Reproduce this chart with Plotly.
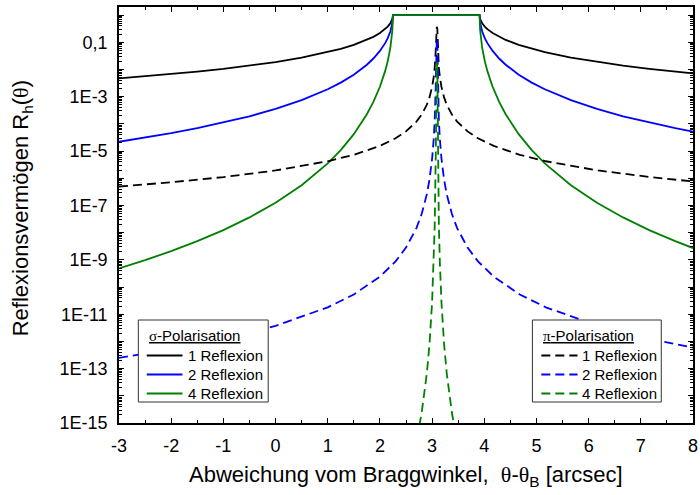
import plotly.graph_objects as go

# ---- data ----
x_sigma = [-3, -2.5, -2, -1.5, -1, -0.5, 0, 0.5, 1, 1.25, 1.5, 1.75, 1.875, 2.0, 2.1, 2.15, 2.2, 2.22, 2.24, 2.25,
           3.91, 3.92, 3.94, 3.96, 4.01, 4.06, 4.16, 4.285, 4.41, 4.66, 4.91, 5.16, 5.66, 6.16, 6.66, 7.16, 7.66, 8.0]
sigma_1 = [4.70e-3, 5.59e-3, 6.77e-3, 8.35e-3, 1.057e-2, 1.381e-2, 1.884e-2, 2.731e-2, 4.333e-2, 5.75e-2, 8.05e-2,
           0.1227, 0.1594, 0.2196, 0.3056, 0.378, 0.5015, 0.5852, 0.7334, 1.0,
           1.0, 0.7334, 0.5852, 0.5015, 0.378, 0.3056, 0.2196, 0.1594, 0.1227, 8.05e-2, 5.75e-2, 4.333e-2,
           2.731e-2, 1.884e-2, 1.381e-2, 1.057e-2, 8.35e-3, 7.22e-3]
sigma_2 = [2.21e-5, 3.12e-5, 4.58e-5, 6.97e-5, 1.117e-4, 1.907e-4, 3.55e-4, 7.46e-4, 1.877e-3, 3.306e-3, 6.48e-3,
           1.506e-2, 2.541e-2, 4.82e-2, 9.34e-2, 0.1429, 0.2515, 0.3425, 0.5379, 1.0,
           1.0, 0.5379, 0.3425, 0.2515, 0.1429, 9.34e-2, 4.82e-2, 2.541e-2, 1.506e-2, 6.48e-3, 3.306e-3, 1.877e-3,
           7.46e-4, 3.55e-4, 1.907e-4, 1.117e-4, 6.97e-5, 5.21e-5]
sigma_4 = [4.88e-10, 9.76e-10, 2.10e-9, 4.86e-9, 1.248e-8, 3.64e-8, 1.26e-7, 5.57e-7, 3.52e-6, 1.093e-5, 4.20e-5,
           2.27e-4, 6.456e-4, 2.33e-3, 8.72e-3, 2.04e-2, 6.33e-2, 0.1173, 0.2893, 1.0,
           1.0, 0.2893, 0.1173, 6.33e-2, 2.04e-2, 8.72e-3, 2.33e-3, 6.456e-4, 2.27e-4, 4.20e-5, 1.093e-5, 3.52e-6,
           5.57e-7, 1.26e-7, 3.64e-8, 1.248e-8, 4.86e-9, 2.72e-9]

x_pi = [-3, -2, -1, 0, 1, 1.5, 2, 2.3, 2.5, 2.7, 2.8, 2.9, 2.95, 3.0, 3.03, 3.05, 3.07, 3.08,
        3.09,
        3.10, 3.11, 3.13, 3.15, 3.18, 3.23, 3.28, 3.38, 3.48, 3.68, 3.88, 4.18, 4.68, 5.18, 6.18, 7.18, 8.0]
pi_1 = [4.99e-7, 7.14e-7, 1.107e-6, 1.94e-6, 4.23e-6, 7.31e-6, 1.556e-5, 2.96e-5, 5.31e-5, 1.216e-4,
        2.20e-4, 5.12e-4, 9.44e-4, 2.28e-3, 5.14e-3, 1.156e-2, 5.1e-2, 0.324,
        0.37,
        0.324, 5.1e-2, 1.156e-2, 5.14e-3, 2.28e-3, 9.44e-4, 5.12e-4, 2.20e-4, 1.216e-4, 5.31e-5,
        2.96e-5, 1.556e-5, 7.31e-6, 4.23e-6, 1.94e-6, 1.107e-6, 7.67e-7]
pi_2 = [2.49e-13, 5.10e-13, 1.225e-12, 3.75e-12, 1.795e-11, 5.35e-11, 2.42e-10, 8.79e-10, 2.82e-9, 1.479e-8,
        4.83e-8, 2.62e-7, 8.91e-7, 5.22e-6, 2.64e-5, 1.337e-4, 2.60e-3, 0.105,
        0.137,
        0.105, 2.60e-3, 1.337e-4, 2.64e-5, 5.22e-6, 8.91e-7, 2.62e-7, 4.83e-8, 1.479e-8, 2.82e-9,
        8.79e-10, 2.42e-10, 5.35e-11, 1.795e-11, 3.75e-12, 1.225e-12, 5.89e-13]
pi_4 = [6.2e-26, 2.6e-25, 1.5e-24, 1.41e-23, 3.22e-22, 2.86e-21, 5.86e-20, 7.73e-19, 7.95e-18, 2.19e-16,
        2.33e-15, 6.86e-14, 7.94e-13, 2.72e-11, 6.97e-10, 1.788e-8, 6.76e-6, 1.10e-2,
        1.88e-2,
        1.10e-2, 6.76e-6, 1.788e-8, 6.97e-10, 2.72e-11, 7.94e-13, 6.86e-14, 2.33e-15, 2.19e-16, 7.95e-18,
        7.73e-19, 5.86e-20, 2.86e-21, 3.22e-22, 1.41e-23, 1.5e-24, 3.46e-25]

series_names = ["1 Reflexion", "2 Reflexion", "4 Reflexion"]
series_colors = ["#000000", "#0000ff", "#008000"]

x_ticks = [-3, -2, -1, 0, 1, 2, 3, 4, 5, 6, 7, 8]
x_ticktext = ["-3", "-2", "-1", "0", "1", "2", "3", "4", "5", "6", "7", "8"]
y_exponents = list(range(-15, 1))
y_labels = {-15: "1E-15", -13: "1E-13", -11: "1E-11", -9: "1E-9", -7: "1E-7",
            -5: "1E-5", -3: "1E-3", -1: "0,1"}

FONT = "Liberation Sans, Arial, sans-serif"
GREEK = "<span style='font-family:Liberation Serif'>{}</span>"
DASH = "9px,5px"

# plot-area geometry in pixels (for placing the hand-built legends)
W, H = 700, 495
ML, MR, MT, MB = 119, 2, 7, 72
PW, PH = W - ML - MR, H - MT - MB


def px(xp):
    return (xp - ML) / PW


def py(yp):
    return (H - MB - yp) / PH


fig = go.Figure()
for name, col, ys in zip(series_names, series_colors, [sigma_1, sigma_2, sigma_4]):
    fig.add_trace(go.Scatter(x=x_sigma, y=ys, mode="lines", name="σ " + name,
                             line=dict(color=col, width=1.8), showlegend=False))
for name, col, ys in zip(series_names, series_colors, [pi_1, pi_2, pi_4]):
    fig.add_trace(go.Scatter(x=x_pi, y=ys, mode="lines", name="π " + name,
                             line=dict(color=col, width=1.8, dash=DASH), showlegend=False))

y_tickvals = [10.0 ** e for e in y_exponents]
y_ticktext = [y_labels.get(e, "") for e in y_exponents]
y_minor = [k * 10.0 ** e for e in range(-15, 1) for k in range(2, 10)]

axis_common = dict(showline=True, linecolor="black", linewidth=1.5, mirror="ticks",
                   ticks="inside", ticklen=5, tickwidth=1.2, tickcolor="black",
                   showgrid=False, zeroline=False, ticklabeloverflow="allow",
                   tickfont=dict(family=FONT, size=18, color="black"))

# ---- hand-built legends (boxes, titles, line samples, labels) ----
shapes = []
annotations = []
legend_specs = [
    # box left, box right, line x0, line x1, text x, greek letter, dash
    (138.5, 269.5, 147, 183, 186.5, "σ", None),
    (536, 666, 545, 581.5, 584.5, "π", DASH),
]
box_top, box_bot = 320, 402
title_y = 335.5
item_ys = [355.5, 374.5, 393.5]
for bx0, bx1, lx0, lx1, tx, greek, dash in legend_specs:
    shapes.append(dict(type="rect", xref="paper", yref="paper",
                       x0=px(bx0), x1=px(bx1), y0=py(box_bot), y1=py(box_top),
                       line=dict(color="#333333", width=1), fillcolor="white", layer="above"))
    annotations.append(dict(text="<u>" + GREEK.format(greek) + "-Polarisation</u>",
                            xref="paper", yref="paper", x=px(lx0), y=py(title_y),
                            xanchor="left", yanchor="middle", showarrow=False,
                            font=dict(family=FONT, size=15, color="black")))
    for name, col, iy in zip(series_names, series_colors, item_ys):
        ln = dict(color=col, width=1.8)
        if dash:
            ln["dash"] = dash
        shapes.append(dict(type="line", xref="paper", yref="paper",
                           x0=px(lx0), x1=px(lx1), y0=py(iy), y1=py(iy), line=ln, layer="above"))
        annotations.append(dict(text=name, xref="paper", yref="paper", x=px(tx), y=py(iy),
                                xanchor="left", yanchor="middle", showarrow=False,
                                font=dict(family=FONT, size=15, color="black")))

annotations.append(dict(text="Abweichung vom Braggwinkel,&nbsp; " + GREEK.format("θ") + "-"
                             + GREEK.format("θ") + "<sub>B</sub> [arcsec]",
                        xref="paper", yref="paper", x=0.5, y=py(476), xanchor="center",
                        yanchor="middle", showarrow=False,
                        font=dict(family=FONT, size=22, color="black")))
annotations.append(dict(text="Reflexionsvermögen R<sub>h</sub>(" + GREEK.format("θ") + ")",
                        xref="paper", yref="paper", x=px(21), y=py(208.5), xanchor="center",
                        yanchor="middle", textangle=-90, showarrow=False,
                        font=dict(family=FONT, size=22, color="black")))

fig.update_layout(
    width=W, height=H,
    margin=dict(l=ML, r=MR, t=MT, b=MB),
    paper_bgcolor="white", plot_bgcolor="white",
    font=dict(family=FONT, color="black"),
    showlegend=False,
    xaxis=dict(range=[-3, 8], tickmode="array", tickvals=x_ticks, ticktext=x_ticktext,
               ticklabelstandoff=6,
               minor=dict(ticks="inside", ticklen=3, tickwidth=1.2, tickcolor="black", dtick=0.5, tick0=0),
               **axis_common),
    yaxis=dict(type="log", range=[-15, 0.3], tickmode="array", tickvals=y_tickvals,
               ticktext=y_ticktext, ticklabelstandoff=6,
               minor=dict(ticks="inside", ticklen=3, tickwidth=1.0, tickcolor="black",
                          tickmode="array", tickvals=y_minor),
               **axis_common),
    shapes=shapes,
    annotations=annotations,
)

fig.write_html("out.html")
